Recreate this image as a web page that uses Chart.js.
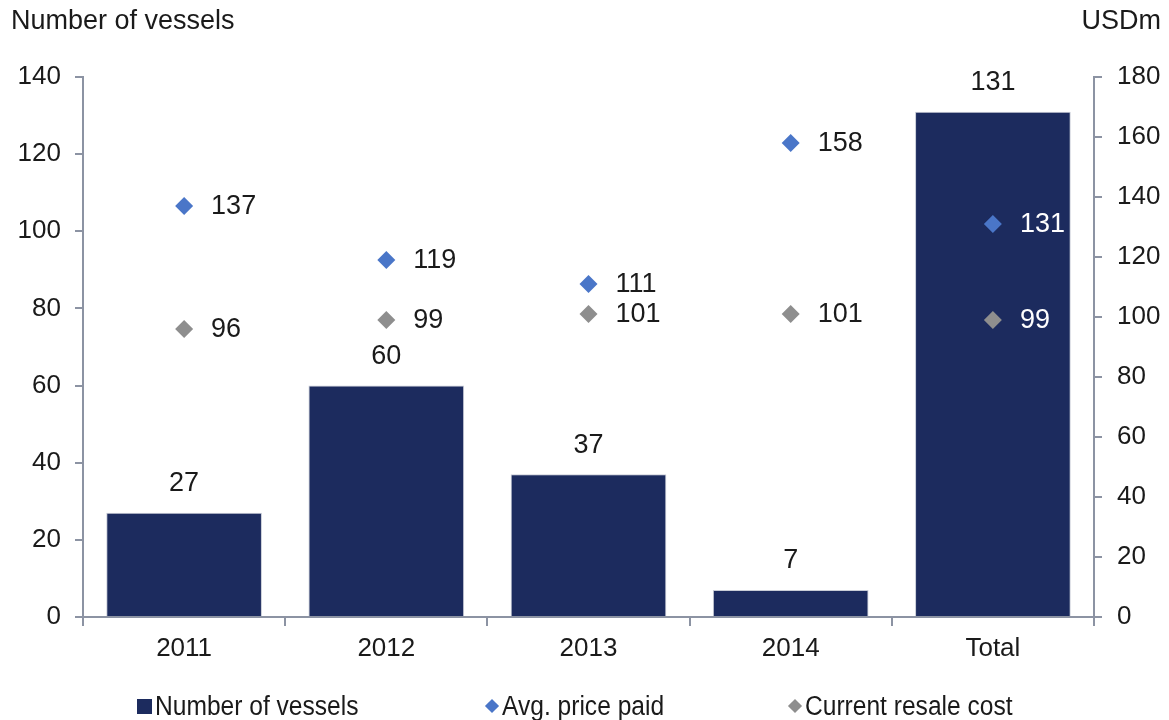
<!DOCTYPE html>
<html>
<head>
<meta charset="utf-8">
<script src="https://cdn.jsdelivr.net/npm/chart.js@4.4.1/dist/chart.umd.min.js"></script>
<style>
  html, body { margin: 0; padding: 0; background: #fff; }
  #wrap { position: relative; width: 1169px; height: 720px; }
  #chart { position: absolute; left: 0; top: 0; }
  .leg { position: absolute; top: 690px; height: 32px; display: flex; align-items: center;
         font-family: "Liberation Sans", Arial, sans-serif; font-size: 27px; color: #1a1a1a; }
  .leg span.txt { display: inline-block; transform: scaleX(0.91); transform-origin: left center; white-space: nowrap; }
  .sq { display: inline-block; width: 15px; height: 15px; background: #1c2b5e; margin-right: 3px; }
  .dm { display: inline-block; width: 10px; height: 10px; transform: rotate(45deg); margin: 0 5px 0 3px; }
</style>
</head>
<body>
<div id="wrap">
  <canvas id="chart" width="1169" height="720"></canvas>
  <div class="leg" style="left:137px"><span class="sq"></span><span class="txt">Number of vessels</span></div>
  <div class="leg" style="left:484px"><span class="dm" style="background:#4a76c8"></span><span class="txt">Avg. price paid</span></div>
  <div class="leg" style="left:787px"><span class="dm" style="background:#8e8e8e"></span><span class="txt">Current resale cost</span></div>
</div>
<script>
const categories = ['2011', '2012', '2013', '2014', 'Total'];
const vessels = [27, 60, 37, 7, 131];
const avgPrice = [137, 119, 111, 158, 131];
const resaleCost = [96, 99, 101, 101, 99];

const FONT = '"Liberation Sans", Arial, sans-serif';
const TEXT = '#1a1a1a';
const AXIS = '#8c93a3';

// draws value labels + axis titles
const labelPlugin = {
    id: 'labels',
    afterDatasetsDraw(chart) {
        const ctx = chart.ctx;
        ctx.save();
        ctx.font = '27px ' + FONT;
        ctx.textBaseline = 'middle';
        chart.data.datasets.forEach((ds, i) => {
            const meta = chart.getDatasetMeta(i);
            meta.data.forEach((el, j) => {
                const v = ds.data[j];
                if (ds.type === 'bar') {
                    ctx.fillStyle = TEXT;
                    ctx.textAlign = 'center';
                    ctx.fillText(String(v), el.x, el.y - 29);
                } else {
                    ctx.fillStyle = j === categories.length - 1 ? '#ffffff' : TEXT;
                    ctx.textAlign = 'left';
                    ctx.fillText(String(v), el.x + 27, el.y + 1);
                }
            });
        });
        ctx.font = '27px ' + FONT;
        ctx.fillStyle = TEXT;
        ctx.textAlign = 'left';
        ctx.fillText('Number of vessels', 11, 22);
        ctx.textAlign = 'right';
        ctx.fillText('USDm', 1161, 22);
        ctx.restore();
    }
};

new Chart(document.getElementById('chart'), {
    data: {
        labels: categories,
        datasets: [
            {
                type: 'line',
                label: 'Avg. price paid',
                data: avgPrice,
                yAxisID: 'y2',
                showLine: false,
                pointStyle: 'rectRot',
                pointRadius: 9,
                pointBackgroundColor: '#4a76c8',
                pointBorderWidth: 0,
                order: 0,
            },
            {
                type: 'line',
                label: 'Current resale cost',
                data: resaleCost,
                yAxisID: 'y2',
                showLine: false,
                pointStyle: 'rectRot',
                pointRadius: 9,
                pointBackgroundColor: '#8e8e8e',
                pointBorderWidth: 0,
                order: 1,
            },
            {
                type: 'bar',
                label: 'Number of vessels',
                data: vessels,
                yAxisID: 'y',
                backgroundColor: '#1c2b5e',
                borderColor: '#c8ccd6',
                borderWidth: 1,
                barPercentage: 0.77,
                categoryPercentage: 1,
                order: 2,
            },
        ],
    },
    options: {
        responsive: false,
        animation: false,
        layout: { padding: { top: 77, left: 0, right: 0, bottom: 0 } },
        plugins: { legend: { display: false }, tooltip: { enabled: false } },
        scales: {
            x: {
                offset: true,
                grid: { offset: true, drawOnChartArea: false, drawTicks: true, tickLength: 9, color: AXIS, lineWidth: 2 },
                border: { color: AXIS, width: 2 },
                ticks: { color: TEXT, font: { family: FONT, size: 26 }, padding: 7 },
                afterFit(scale) { scale.height = 103; },
            },
            y: {
                position: 'left',
                min: 0, max: 140,
                ticks: { stepSize: 20, color: TEXT, font: { family: FONT, size: 26 }, padding: 14 },
                grid: { drawOnChartArea: false, tickLength: 8, color: AXIS, lineWidth: 2 },
                border: { color: AXIS, width: 2 },
                afterFit(scale) { scale.width = 83; },
            },
            y2: {
                position: 'right',
                min: 0, max: 180,
                ticks: { stepSize: 20, color: TEXT, font: { family: FONT, size: 26 }, padding: 15 },
                grid: { drawOnChartArea: false, tickLength: 8, color: AXIS, lineWidth: 2 },
                border: { color: AXIS, width: 2 },
                afterFit(scale) { scale.width = 75; },
            },
        },
    },
    plugins: [labelPlugin],
});
</script>
</body>
</html>
